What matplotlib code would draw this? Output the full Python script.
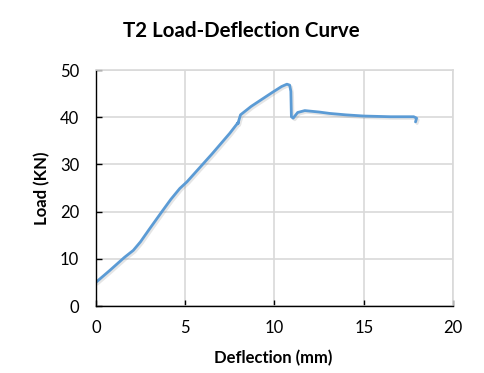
import matplotlib.pyplot as plt
import matplotlib.patheffects as pe

# T2 load-deflection data
deflection = [0.0, 0.8, 1.6, 2.1, 2.5, 3.0, 3.7, 4.2, 4.7, 5.1, 6.5, 7.5, 7.97, 7.95, 8.1,
              8.7, 9.3, 9.9, 10.4, 10.7, 10.85, 10.92, 10.95, 11.05, 11.3, 11.7, 12.5,
              13.1, 14.0, 15.0, 16.5, 17.8, 17.96, 17.9]
load = [5.0, 7.6, 10.3, 11.8, 13.6, 16.3, 20.0, 22.6, 24.9, 26.3, 32.2, 36.6, 38.9, 38.6, 40.5,
        42.3, 43.8, 45.3, 46.5, 47.0, 46.8, 45.5, 40.1, 39.8, 41.0, 41.4, 41.1,
        40.8, 40.5, 40.25, 40.1, 40.1, 39.8, 39.0]

plt.rcParams['font.family'] = ['Lato', 'DejaVu Sans']

fig = plt.figure(figsize=(4.84, 3.73), dpi=100)
ax = fig.add_axes([0.198, 0.1796, 0.738, 0.6327])

ax.plot(deflection, load, color='#5B9BD5', linewidth=2.0, solid_capstyle='round',
        solid_joinstyle='round',
        path_effects=[pe.SimpleLineShadow(offset=(1.2, -1.2), shadow_color='gray', alpha=0.2),
                      pe.Normal()])

ax.set_xlim(0, 20)
ax.set_ylim(0, 50)
ax.set_xticks([0, 5, 10, 15, 20])
ax.set_yticks([0, 10, 20, 30, 40, 50])
ax.grid(True, color='#D9D9D9', linewidth=1.2)
ax.set_axisbelow(True)
for s in ['top', 'right']:
    ax.spines[s].set_color('#D9D9D9')
    ax.spines[s].set_linewidth(1.2)
for s in ['left', 'bottom']:
    ax.spines[s].set_color('#000000')
    ax.spines[s].set_linewidth(1.0)
ax.tick_params(axis='both', direction='in', labelsize=12, length=4, width=1.0,
               color='#000000', labelcolor='#000000')
ax.tick_params(axis='y', pad=12)
ax.tick_params(axis='x', pad=10)

fig.text(0.564, 0.040, 'Deflection (mm)', fontsize=12, fontweight='bold',
         ha='center', va='center')
fig.text(0.087, 0.496, 'Load (KN)', fontsize=12, fontweight='bold',
         ha='center', va='center', rotation=90)
fig.text(0.498, 0.917, 'T2 Load-Deflection Curve', fontsize=14.8, fontweight='bold',
         ha='center', va='center')

fig.savefig('out.png', dpi=100)
